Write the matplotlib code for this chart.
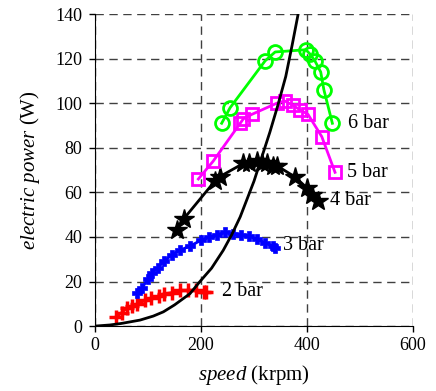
import matplotlib
matplotlib.use("Agg")
from matplotlib import pyplot as plt

plt.rcParams["font.family"] = ["Liberation Serif", "DejaVu Serif"]
plt.rcParams["mathtext.fontset"] = "custom"
plt.rcParams["mathtext.it"] = "Liberation Serif:italic"
plt.rcParams["mathtext.rm"] = "Liberation Serif"

# speed (krpm) and electric power (W) for each pressure
speed_2bar = [40, 50, 60, 70, 80, 95, 105, 120, 130, 145, 160, 175, 190, 205, 210]
power_2bar = [4, 6, 8, 9, 10, 11.5, 12.5, 13.5, 14.5, 15, 16, 16, 16, 15.5, 15.5]

speed_3bar = [80, 88, 100, 108, 118, 130, 145, 160, 180, 200, 215, 230, 245,
              260, 275, 290, 305, 320, 335, 340]
power_3bar = [15, 17, 21, 24, 26, 29, 32, 34, 36, 38.5, 40, 41, 42,
              41.5, 41, 40.5, 39, 37.5, 36, 35]

speed_4bar = [154, 167, 226, 235, 280, 290, 305, 315, 324, 336, 343, 377, 400, 409, 421]
power_4bar = [43, 48, 65, 67, 73, 73, 74, 73, 73, 72, 72, 67, 62, 59, 56]

speed_5bar = [195, 223, 274, 280, 296, 343, 358, 374, 387, 402, 428, 453]
power_5bar = [66, 74, 91, 93, 95, 100, 101, 99, 97, 95, 85, 69]

speed_6bar = [239, 255, 321, 340, 398, 406, 415, 426, 432, 448]
power_6bar = [91, 98, 119, 123, 124, 122, 119, 114, 106, 91]

# load curve
speed_load = [0, 28, 50, 85, 110, 129, 150, 179, 198, 220, 242, 258, 274,
              287, 300, 315, 330, 345, 360, 372, 385]
power_load = [0, 0.5, 1.2, 2.7, 4.5, 6.4, 9.5, 14.5, 20, 26, 34, 41, 49,
              57, 65, 76, 87, 99, 112, 126, 142]

labels = ["2 bar", "3 bar", "4 bar", "5 bar", "6 bar"]
label_x = [239, 355, 443, 475, 477]
label_y = [15.4, 36, 56.5, 69, 91]

fig = plt.figure(figsize=(4.36, 3.91), dpi=100)
ax = fig.add_axes([0.218, 0.166, 0.729, 0.798])

ax.plot(speed_2bar, power_2bar, color="#ff0000", lw=2, marker="+", ms=10, mew=2.5)
ax.plot(speed_3bar, power_3bar, color="#0000ff", lw=2, marker="P", ms=7, mew=0.5)
ax.plot(speed_4bar, power_4bar, color="black", lw=2, marker="*", ms=15, mew=1)
ax.plot(speed_5bar, power_5bar, color="#ff00ff", lw=2, marker="s", ms=9,
        mfc="none", mew=2)
ax.plot(speed_6bar, power_6bar, color="#00ff00", lw=2, marker="o", ms=10,
        mfc="none", mew=2)
ax.plot(speed_load, power_load, color="black", lw=2)

for lab, x, y in zip(labels, label_x, label_y):
    ax.text(x, y, lab, fontsize=14.5, va="center", ha="left")

ax.set_xlim(0, 600)
ax.set_ylim(0, 140)
ax.set_xticks([0, 200, 400, 600])
ax.set_yticks(range(0, 141, 20))
ax.tick_params(direction="out", length=4, labelsize=13, width=1)
ax.tick_params(axis="y", pad=5)

ax.grid(True, linestyle=(0, (6, 4)), color="#404040", lw=1)
ax.set_axisbelow(True)

ax.spines["top"].set_visible(False)
ax.spines["right"].set_visible(False)

ax.set_xlabel(r"$\mathit{speed}$ (krpm)", fontsize=15, labelpad=7)
ax.set_ylabel(r"$\mathit{electric\ power}$ (W)", fontsize=15, labelpad=10)

plt.savefig("out.png", dpi=100)
